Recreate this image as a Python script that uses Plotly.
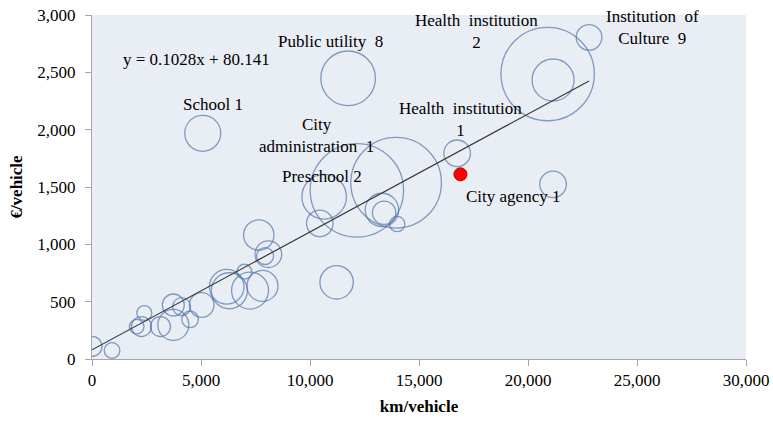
import plotly.graph_objects as go

# km per vehicle, € per vehicle, and bubble weight (fleet size) per organisation
km_per_vehicle = [20900, 21150, 22800, 13950, 12150, 10650, 10450, 13300, 13400, 14000,
                  16750, 21150, 11750, 5080, 11220, 7650, 8090, 7940, 6180, 6300,
                  6990, 7250, 7820, 5030, 3730, 4110, 4500, 3730, 3140, 2400,
                  2270, 2050, 920, 0]
eur_per_vehicle = [2485, 2433, 2805, 1537, 1471, 1415, 1183, 1300, 1275, 1177,
                   1794, 1523, 2448, 1968, 669, 1081, 914, 898, 630, 595,
                   761, 597, 637, 471, 471, 456, 346, 297, 283, 401,
                   283, 282, 74, 110]
fleet_size = [2181, 441, 164, 2052, 2181, 497, 177, 279, 137, 59,
              177, 177, 745, 324, 279, 231, 177, 72, 299, 324,
              56, 342, 240, 151, 121, 81, 69, 240, 100, 56,
              100, 53, 61, 100]

# highlighted organisation
red_km = [16900]
red_eur = [1611]

# regression line as given on the chart
slope, intercept = 0.1028, 80.141
trend_x = [0, max(km_per_vehicle)]
trend_y = [slope * x + intercept for x in trend_x]

SERIF = "Liberation Serif, Times New Roman, serif"

fig = go.Figure()

fig.add_trace(go.Scatter(
    x=km_per_vehicle,
    y=eur_per_vehicle,
    mode="markers",
    marker=dict(
        size=fleet_size,
        sizemode="area",
        sizeref=0.5,
        color="rgba(0,0,0,0)",
        line=dict(color="#5577aa", width=1.3),
    ),
    cliponaxis=True,
    showlegend=False,
))

fig.add_trace(go.Scatter(
    x=trend_x,
    y=trend_y,
    mode="lines",
    line=dict(color="#3a3a3a", width=1.2),
    showlegend=False,
))

fig.add_trace(go.Scatter(
    x=red_km,
    y=red_eur,
    mode="markers",
    marker=dict(size=13, color="#ff0000", line=dict(color="#c00000", width=1)),
    showlegend=False,
))

labels = [
    (4771, 2616, "y = 0.1028x + 80.141"),
    (10963, 2773, "Public utility\u00a0 8"),
    (17647, 2856, "Health\u00a0 institution<br>2"),
    (25720, 2887, "Institution\u00a0 of<br>Culture\u00a0 9"),
    (5564, 2221, "School 1"),
    (10275, 1949, "City<br>administration\u00a0 1"),
    (10550, 1590, "Preschool 2"),
    (16881, 2089, "Health\u00a0 institution<br>1"),
    (19312, 1421, "City agency 1"),
]
for x, y, text in labels:
    fig.add_annotation(
        x=x, y=y, text=text, showarrow=False,
        xanchor="center", yanchor="middle", align="center",
        font=dict(family=SERIF, size=17, color="black"),
    )

axis_style = dict(
    showgrid=False,
    zeroline=False,
    showline=True,
    linecolor="#a6a6a6",
    ticks="outside",
    ticklen=6,
    tickcolor="#a6a6a6",
    tickformat=",d",
    automargin=False,
    ticklabeloverflow="allow",
    tickfont=dict(family=SERIF, size=17),
)

fig.update_layout(
    width=773,
    height=421,
    margin=dict(l=92, r=27, t=15, b=62),
    paper_bgcolor="white",
    plot_bgcolor="#e9edf4",
    font=dict(family=SERIF, size=17, color="black"),
    xaxis=dict(
        range=[0, 30000],
        tickvals=[0, 5000, 10000, 15000, 20000, 25000, 30000],
        title=dict(text="<b>km/vehicle</b>", standoff=10,
                   font=dict(family=SERIF, size=17)),
        **axis_style,
    ),
    yaxis=dict(
        range=[0, 3000],
        tickvals=[0, 500, 1000, 1500, 2000, 2500, 3000],
        ticklabelstandoff=6,
        title=dict(text="<b>€/vehicle</b>", standoff=10,
                   font=dict(family=SERIF, size=17)),
        **axis_style,
    ),
)

# drop the default page margin so the figure fills the window exactly
fig.write_html(
    "out.html",
    config={"displayModeBar": False},
    post_script="document.body.style.margin='0';document.body.style.overflow='hidden';",
)
